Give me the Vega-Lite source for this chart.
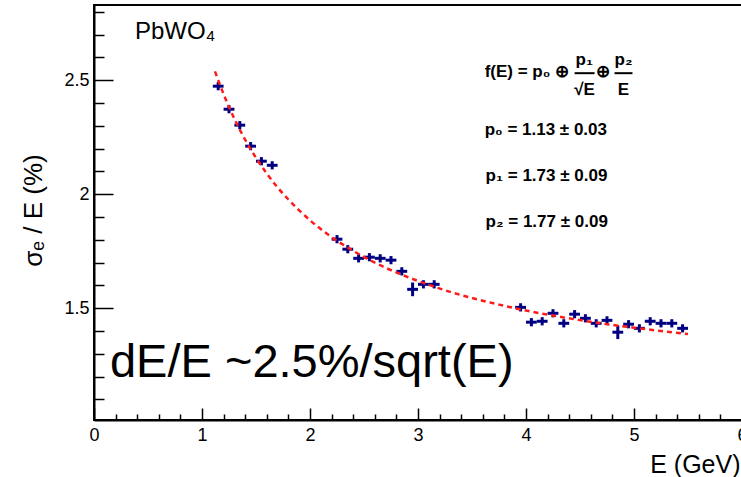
{
  "$schema": "https://vega.github.io/schema/vega-lite/v6.json",
  "autosize": "none",
  "width": 648,
  "height": 415,
  "padding": {"left": 94, "top": 5, "right": 0, "bottom": 57},
  "background": "white",
  "config": {
    "view": {"stroke": "black", "strokeWidth": 2},
    "font": "Liberation Sans",
    "axis": {"grid": false, "domainColor": "black", "domainWidth": 2, "tickColor": "black", "tickWidth": 1.5, "labelColor": "black", "titleColor": "black", "labelFont": "Liberation Sans", "titleFont": "Liberation Sans", "titleFontWeight": "normal"}
  },
  "datasets": {
    "points": [
      {"E": 1.15, "res": 2.474, "ex": 0.05, "ey": 0.018},
      {"E": 1.25, "res": 2.373, "ex": 0.05, "ey": 0.018},
      {"E": 1.35, "res": 2.303, "ex": 0.05, "ey": 0.018},
      {"E": 1.45, "res": 2.211, "ex": 0.05, "ey": 0.018},
      {"E": 1.55, "res": 2.145, "ex": 0.05, "ey": 0.018},
      {"E": 1.65, "res": 2.127, "ex": 0.05, "ey": 0.018},
      {"E": 2.25, "res": 1.803, "ex": 0.05, "ey": 0.018},
      {"E": 2.35, "res": 1.759, "ex": 0.05, "ey": 0.018},
      {"E": 2.45, "res": 1.719, "ex": 0.05, "ey": 0.018},
      {"E": 2.55, "res": 1.724, "ex": 0.05, "ey": 0.018},
      {"E": 2.65, "res": 1.719, "ex": 0.05, "ey": 0.018},
      {"E": 2.75, "res": 1.711, "ex": 0.05, "ey": 0.018},
      {"E": 2.85, "res": 1.662, "ex": 0.05, "ey": 0.018},
      {"E": 2.95, "res": 1.583, "ex": 0.05, "ey": 0.03},
      {"E": 3.05, "res": 1.605, "ex": 0.05, "ey": 0.018},
      {"E": 3.15, "res": 1.605, "ex": 0.05, "ey": 0.018},
      {"E": 3.95, "res": 1.504, "ex": 0.05, "ey": 0.018},
      {"E": 4.05, "res": 1.439, "ex": 0.05, "ey": 0.018},
      {"E": 4.15, "res": 1.443, "ex": 0.05, "ey": 0.018},
      {"E": 4.25, "res": 1.478, "ex": 0.05, "ey": 0.018},
      {"E": 4.35, "res": 1.434, "ex": 0.05, "ey": 0.018},
      {"E": 4.45, "res": 1.474, "ex": 0.05, "ey": 0.018},
      {"E": 4.55, "res": 1.456, "ex": 0.05, "ey": 0.018},
      {"E": 4.65, "res": 1.434, "ex": 0.05, "ey": 0.018},
      {"E": 4.75, "res": 1.447, "ex": 0.05, "ey": 0.018},
      {"E": 4.85, "res": 1.395, "ex": 0.05, "ey": 0.03},
      {"E": 4.95, "res": 1.430, "ex": 0.05, "ey": 0.018},
      {"E": 5.05, "res": 1.412, "ex": 0.05, "ey": 0.018},
      {"E": 5.15, "res": 1.443, "ex": 0.05, "ey": 0.018},
      {"E": 5.25, "res": 1.434, "ex": 0.05, "ey": 0.018},
      {"E": 5.35, "res": 1.434, "ex": 0.05, "ey": 0.018},
      {"E": 5.45, "res": 1.412, "ex": 0.05, "ey": 0.018}
    ],
    "fit": [
      {"E": 1.12, "res": 2.539},
      {"E": 1.2, "res": 2.439},
      {"E": 1.3, "res": 2.331},
      {"E": 1.4, "res": 2.239},
      {"E": 1.5, "res": 2.160},
      {"E": 1.6, "res": 2.091},
      {"E": 1.7, "res": 2.030},
      {"E": 1.8, "res": 1.977},
      {"E": 1.9, "res": 1.929},
      {"E": 2.0, "res": 1.886},
      {"E": 2.2, "res": 1.812},
      {"E": 2.4, "res": 1.752},
      {"E": 2.6, "res": 1.700},
      {"E": 2.8, "res": 1.657},
      {"E": 3.0, "res": 1.620},
      {"E": 3.25, "res": 1.579},
      {"E": 3.5, "res": 1.545},
      {"E": 3.75, "res": 1.516},
      {"E": 4.0, "res": 1.490},
      {"E": 4.25, "res": 1.468},
      {"E": 4.5, "res": 1.448},
      {"E": 4.75, "res": 1.430},
      {"E": 5.0, "res": 1.415},
      {"E": 5.25, "res": 1.400},
      {"E": 5.5, "res": 1.387}
    ],
    "labelBig": [{"E": 0.148, "res": 1.197, "label": "dE/E ~2.5%/sqrt(E)"}],
    "labelMat": [{"E": 0.379, "res": 2.68, "label": "PbWO₄"}],
    "formulaLeft": [
      {"E": 3.617, "res": 2.513, "label": "f(E) = p₀ ⊕"},
      {"E": 3.617, "res": 2.259, "label": "p₀ = 1.13 ± 0.03"},
      {"E": 3.626, "res": 2.057, "label": "p₁ = 1.73 ± 0.09"},
      {"E": 3.626, "res": 1.857, "label": "p₂ = 1.77 ± 0.09"}
    ],
    "formulaCenter": [
      {"E": 4.54, "res": 2.566, "label": "p₁"},
      {"E": 4.542, "res": 2.434, "label": "√E"},
      {"E": 4.709, "res": 2.513, "label": "⊕"},
      {"E": 4.903, "res": 2.566, "label": "p₂"},
      {"E": 4.903, "res": 2.434, "label": "E"}
    ],
    "fractionBars": [
      {"E": 4.45, "E2": 4.635, "res": 2.531},
      {"E": 4.82, "E2": 4.986, "res": 2.531}
    ]
  },
  "encoding": {
    "x": {
      "field": "E", "type": "quantitative",
      "scale": {"domain": [0, 6], "nice": false, "zero": false},
      "axis": {
        "title": "E (GeV)", "titleFontSize": 25, "titleX": 646, "titleY": 52, "titleAlign": "right", "titleBaseline": "alphabetic", "titleAnchor": null,
        "values": [0, 0.2, 0.4, 0.6, 0.8, 1, 1.2, 1.4, 1.6, 1.8, 2, 2.2, 2.4, 2.6, 2.8, 3, 3.2, 3.4, 3.6, 3.8, 4, 4.2, 4.4, 4.6, 4.8, 5, 5.2, 5.4, 5.6, 5.8, 6],
        "labelExpr": "abs(datum.value - round(datum.value)) < 1e-6 ? format(datum.value, 'd') : ''",
        "labelFontSize": 18, "labelPadding": 18, "labelFlush": false, "labelOverlap": false,
        "tickSize": {"condition": {"test": "abs(datum.value - round(datum.value)) < 1e-6", "value": -12}, "value": -6}
      }
    },
    "y": {
      "field": "res", "type": "quantitative",
      "scale": {"domain": [1.01, 2.83], "nice": false, "zero": false},
      "axis": {
        "title": "σₑ / E (%)", "titleFontSize": 26, "titleAngle": -90, "titleX": -61, "titleY": 205, "titleAlign": "center", "titleBaseline": "middle", "titleAnchor": null,
        "values": [1.1, 1.2, 1.3, 1.4, 1.5, 1.6, 1.7, 1.8, 1.9, 2.0, 2.1, 2.2, 2.3, 2.4, 2.5, 2.6, 2.7, 2.8],
        "labelExpr": "abs(datum.value * 2 - round(datum.value * 2)) < 1e-6 ? format(datum.value, '~g') : ''",
        "labelFontSize": 18, "labelPadding": 24, "labelOverlap": false, "labelFlush": false,
        "tickSize": {"condition": {"test": "abs(datum.value * 2 - round(datum.value * 2)) < 1e-6", "value": -19}, "value": -10}
      }
    }
  },
  "layer": [
    {
      "data": {"name": "points"},
      "mark": {"type": "errorbar", "thickness": 3, "color": "#000080"},
      "encoding": {"xError": {"field": "ex"}}
    },
    {
      "data": {"name": "points"},
      "mark": {"type": "errorbar", "thickness": 3, "color": "#000080"},
      "encoding": {"yError": {"field": "ey"}}
    },
    {
      "data": {"name": "fit"},
      "mark": {"type": "line", "color": "#ff1a1a", "strokeWidth": 2.5, "strokeDash": [5, 4], "interpolate": "monotone"}
    },
    {
      "data": {"name": "labelMat"},
      "mark": {"type": "text", "align": "left", "baseline": "alphabetic", "fontSize": 24, "color": "black"},
      "encoding": {"text": {"field": "label"}}
    },
    {
      "data": {"name": "labelBig"},
      "mark": {"type": "text", "align": "left", "baseline": "alphabetic", "fontSize": 47, "color": "black"},
      "encoding": {"text": {"field": "label"}}
    },
    {
      "data": {"name": "formulaLeft"},
      "mark": {"type": "text", "align": "left", "baseline": "alphabetic", "fontSize": 17, "fontWeight": "bold", "color": "black"},
      "encoding": {"text": {"field": "label"}}
    },
    {
      "data": {"name": "formulaCenter"},
      "mark": {"type": "text", "align": "center", "baseline": "alphabetic", "fontSize": 17, "fontWeight": "bold", "color": "black"},
      "encoding": {"text": {"field": "label"}}
    },
    {
      "data": {"name": "fractionBars"},
      "mark": {"type": "rule", "strokeWidth": 2, "color": "black"},
      "encoding": {"x2": {"field": "E2"}}
    }
  ]
}
